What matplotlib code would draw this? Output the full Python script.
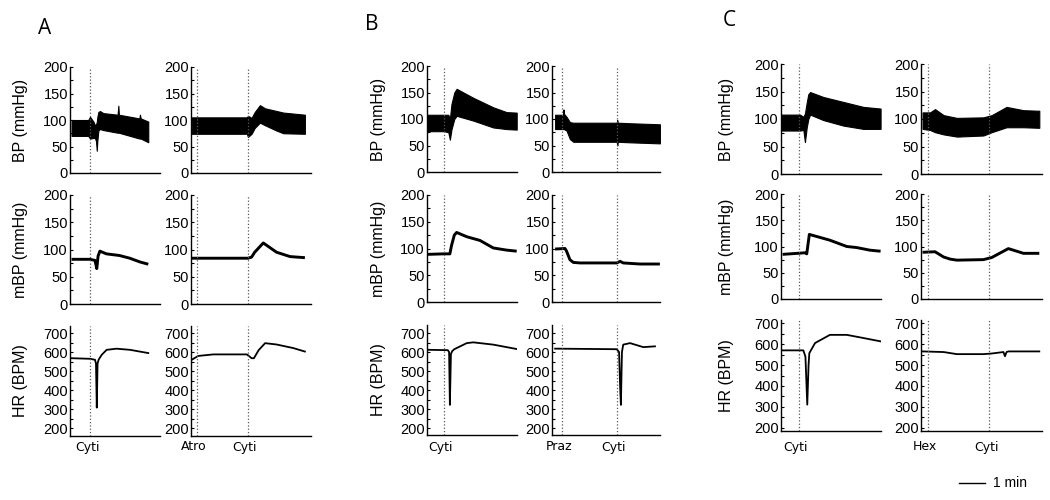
import matplotlib.pyplot as plt
from matplotlib.lines import Line2D

plt.rcParams['font.family'] = ['Liberation Sans', 'DejaVu Sans']

# Traces. Times are minutes from the left edge of each
# trace window; BP is drawn as the pulse envelope (hi/lo), mBP and HR as lines.

# ---- A, left: Cyti ----
a1_bp_t = [0.06, 0.70, 0.77, 0.90, 0.96, 1.00, 1.03, 1.05, 1.09, 1.15, 1.28, 1.83, 1.86, 1.88, 2.67, 2.69, 2.72, 3.01]
a1_bp_hi = [100, 100, 106, 97, 90, 92, 96, 105, 115, 117, 113, 110, 127, 110, 103, 110, 103, 97]
a1_bp_lo = [70, 70, 65, 66, 66, 60, 42, 60, 80, 83, 81, 76, 76, 76, 65, 65, 65, 58]
a1_mbp_t = [0.06, 0.77, 0.96, 1.03, 1.08, 1.15, 1.40, 1.90, 2.30, 2.70, 3.01]
a1_mbp = [82, 82, 80, 65, 88, 97, 92, 89, 84, 77, 73]
a1_hr_t = [0.06, 0.77, 0.96, 1.00, 1.03, 1.06, 1.10, 1.22, 1.41, 1.79, 2.31, 3.01]
a1_hr = [568, 565, 560, 540, 309, 540, 560, 586, 612, 618, 612, 595]
a1_events = [(0.77, 'Cyti')]

# ---- A, right: Atro then Cyti ----
a2_bp_t = [0.03, 2.15, 2.19, 2.33, 2.45, 2.65, 2.85, 3.29, 3.55, 4.38]
a2_bp_hi = [105, 105, 108, 104, 115, 128, 122, 117, 114, 110]
a2_bp_lo = [74, 74, 68, 74, 85, 95, 90, 80, 75, 74]
a2_mbp_t = [0.03, 2.19, 2.33, 2.45, 2.78, 3.29, 3.81, 4.38]
a2_mbp = [84, 84, 86, 95, 112, 95, 87, 85]
a2_hr_t = [0.03, 0.28, 0.86, 2.15, 2.33, 2.42, 2.60, 2.85, 3.29, 3.94, 4.38]
a2_hr = [560, 580, 588, 588, 568, 568, 610, 647, 640, 621, 603]
a2_events = [(0.23, 'Atro'), (2.19, 'Cyti')]

# ---- B, left: Cyti ----
b1_bp_t = [0.0, 0.65, 0.82, 0.88, 0.94, 1.05, 1.14, 1.78, 2.55, 3.06, 3.45]
b1_bp_hi = [108, 108, 108, 100, 128, 150, 157, 140, 122, 113, 112]
b1_bp_lo = [77, 77, 75, 61, 80, 100, 106, 97, 84, 81, 80]
b1_mbp_t = [0.0, 0.65, 0.88, 0.94, 1.05, 1.14, 1.53, 2.04, 2.55, 3.06, 3.45]
b1_mbp = [89, 90, 90, 105, 125, 130, 122, 115, 101, 97, 95]
b1_hr_t = [0.0, 0.80, 0.85, 0.88, 0.92, 0.97, 1.05, 1.53, 1.78, 2.55, 3.45]
b1_hr = [612, 610, 600, 323, 590, 605, 615, 647, 651, 639, 616]
b1_events = [(0.65, 'Cyti')]

# ---- B, right: Praz then Cyti ----
b2_bp_t = [0.12, 0.42, 0.44, 0.46, 0.56, 0.69, 0.82, 2.49, 2.51, 2.53, 3.0, 4.15]
b2_bp_hi = [108, 108, 118, 110, 104, 94, 93, 93, 98, 93, 92, 90]
b2_bp_lo = [81, 81, 81, 81, 78, 62, 57, 57, 50, 57, 56, 54]
b2_mbp_t = [0.12, 0.50, 0.56, 0.69, 0.82, 1.08, 2.49, 2.62, 2.74, 3.38, 4.15]
b2_mbp = [99, 100, 95, 79, 74, 73, 73, 76, 73, 71, 71]
b2_hr_t = [0.12, 2.49, 2.58, 2.62, 2.65, 2.69, 2.74, 3.0, 3.51, 3.96]
b2_hr = [618, 615, 600, 420, 323, 600, 639, 647, 626, 630]
b2_events = [(0.38, 'Praz'), (2.50, 'Cyti')]

# ---- C, left: Cyti ----
c1_bp_t = [0.0, 0.73, 0.86, 0.92, 0.99, 1.05, 1.12, 1.63, 2.40, 3.17, 3.83]
c1_bp_hi = [108, 108, 104, 110, 130, 145, 149, 140, 131, 122, 119]
c1_bp_lo = [79, 79, 80, 58, 85, 100, 108, 98, 88, 82, 82]
c1_mbp_t = [0.06, 0.92, 0.99, 1.09, 1.88, 2.53, 2.91, 3.42, 3.83]
c1_mbp = [85, 88, 86, 123, 112, 100, 98, 93, 91]
c1_hr_t = [0.06, 0.86, 0.94, 1.01, 1.06, 1.09, 1.31, 1.88, 2.53, 3.17, 3.83]
c1_hr = [570, 570, 540, 311, 500, 557, 605, 644, 644, 629, 613]
c1_events = [(0.69, 'Cyti')]

# ---- C, right: Hex then Cyti ----
c2_bp_t = [0.06, 0.35, 0.54, 0.87, 1.38, 2.40, 2.72, 3.29, 3.94, 4.55]
c2_bp_hi = [112, 112, 118, 107, 102, 103, 107, 122, 116, 115]
c2_bp_lo = [82, 80, 76, 72, 68, 70, 76, 85, 85, 84]
c2_mbp_t = [0.06, 0.54, 0.87, 1.12, 1.38, 2.40, 2.72, 3.36, 3.94, 4.55]
c2_mbp = [89, 90, 80, 76, 74, 75, 79, 96, 87, 87]
c2_hr_t = [0.06, 0.87, 1.38, 2.40, 2.72, 3.17, 3.23, 3.29, 3.36, 4.55]
c2_hr = [565, 562, 552, 552, 555, 562, 542, 562, 565, 565]
c2_events = [(0.27, 'Hex'), (2.62, 'Cyti')]

bp_ticks = [0, 50, 100, 150, 200]
hr_ticks = [200, 300, 400, 500, 600, 700]
row_labels = ['BP (mmHg)', 'mBP (mmHg)', 'HR (BPM)']

W, H = 1050, 500
PX_PER_MIN = 26.0


def rect(left, right, top, bottom):
    return [left / W, 1 - bottom / H, (right - left) / W, (bottom - top) / H]


# per panel: letter, letter pos, ylabel x, row boxes (top, bottom px, ylim), columns
panels = [
    ('A', (45, 28), 21,
     [(67, 173, (0, 200)), (195, 304, (0, 200)), (326, 436, (160, 737))],
     [(70, 160, (a1_bp_t, a1_bp_hi, a1_bp_lo), (a1_mbp_t, a1_mbp), (a1_hr_t, a1_hr), a1_events),
      (191, 311, (a2_bp_t, a2_bp_hi, a2_bp_lo), (a2_mbp_t, a2_mbp), (a2_hr_t, a2_hr), a2_events)]),
    ('B', (372, 24), 378,
     [(66, 172, (0, 200)), (195, 302, (0, 200)), (325, 435, (165, 742))],
     [(427, 517, (b1_bp_t, b1_bp_hi, b1_bp_lo), (b1_mbp_t, b1_mbp), (b1_hr_t, b1_hr), b1_events),
      (552, 660, (b2_bp_t, b2_bp_hi, b2_bp_lo), (b2_mbp_t, b2_mbp), (b2_hr_t, b2_hr), b2_events)]),
    ('C', (729, 20), 727,
     [(64, 174, (0, 200)), (194, 299, (0, 200)), (320, 431, (185, 715))],
     [(781, 881, (c1_bp_t, c1_bp_hi, c1_bp_lo), (c1_mbp_t, c1_mbp), (c1_hr_t, c1_hr), c1_events),
      (921, 1042, (c2_bp_t, c2_bp_hi, c2_bp_lo), (c2_mbp_t, c2_mbp), (c2_hr_t, c2_hr), c2_events)]),
]


def style_axis(ax, ylim, ticks, minor_step):
    ax.set_ylim(*ylim)
    ax.set_yticks(ticks)
    ax.set_yticks([v for v in range(ticks[0], ticks[-1], minor_step) if v not in ticks], minor=True)
    ax.set_xticks([])
    for s in ('top', 'right'):
        ax.spines[s].set_visible(False)
    for s in ('left', 'bottom'):
        ax.spines[s].set_linewidth(1.0)
    ax.tick_params(axis='y', which='major', direction='in', length=2, width=0.8, pad=1.5, labelsize=10.5)
    ax.tick_params(axis='y', which='minor', direction='in', length=2, width=0.8)
    ax.patch.set_alpha(0)


fig = plt.figure(figsize=(10.5, 5), dpi=100)

for letter, lpos, ylab_x, rows, cols in panels:
    fig.text(lpos[0] / W, 1 - lpos[1] / H, letter, fontsize=15, ha='center', va='center',
             family=['Open Sans', 'DejaVu Sans'])
    for ci, (left, right, bp, mbp, hr, events) in enumerate(cols):
        xmax = (right - left) / PX_PER_MIN
        for ri, (top, bottom, ylim) in enumerate(rows):
            ax = fig.add_axes(rect(left, right, top, bottom))
            if ri == 0:
                ax.fill_between(bp[0], bp[2], bp[1], color='black', edgecolor='black', lw=0.8)
                style_axis(ax, ylim, bp_ticks, 25)
            elif ri == 1:
                ax.plot(mbp[0], mbp[1], color='black', lw=2.1, solid_capstyle='butt')
                style_axis(ax, ylim, bp_ticks, 25)
            else:
                ax.plot(hr[0], hr[1], color='black', lw=1.3)
                style_axis(ax, ylim, hr_ticks, 50)
            ax.set_xlim(0, xmax)
            for t, _ in events:
                ax.axvline(t, color='0.35', ls=':', lw=0.9)
            if ci == 0:
                fig.text(ylab_x / W, 1 - (top + bottom) / 2 / H, row_labels[ri],
                         rotation=90, ha='center', va='center', fontsize=11.5)
        for t, lab in events:
            x = left + t * PX_PER_MIN - 3
            fig.text(x / W, 1 - 447 / H, lab, ha='center', va='center', fontsize=9,
                     family=['DejaVu Sans'])

# 1 min scale bar
fig.add_artist(Line2D([959 / W, 985 / W], [1 - 483 / H, 1 - 483 / H], color='black', lw=1))
fig.text(993 / W, 1 - 483 / H, '1 min', ha='left', va='center', fontsize=10)

fig.savefig('out.png', dpi=100)
